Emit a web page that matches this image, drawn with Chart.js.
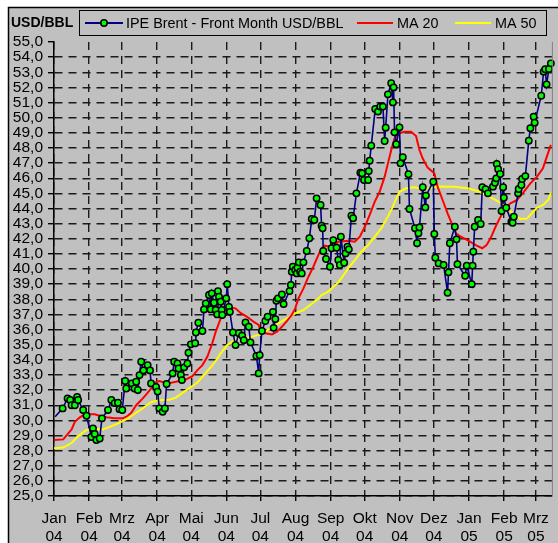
<!DOCTYPE html>
<html>
<head>
<meta charset="utf-8">
<script src="https://cdn.jsdelivr.net/npm/chart.js@4.4.1/dist/chart.umd.min.js"></script>
<style>
    html, body { margin: 0; padding: 0; background: #fff; }
    canvas { display: block; }
</style>
</head>
<body>
<canvas id="brentChart" width="558" height="543"></canvas>
<script>
// x values are days since 1 Jan 2004
const brentDays = [1,7.6,12,14.3,15.5,18.4,20.4,21.3,25.7,28.7,33,34.4,35.9,37.4,40.3,42.3,47.6,50.6,53.5,56.4,
    57.8,60.2,62.8,63.7,68.6,71,72.5,73.9,75.4,76.9,78.9,82.6,84.7,85.6,90,91.4,92.9,95.8,97.8,99.3,
    104.6,106,108.9,109.8,111.9,112.8,114.8,117.7,118.6,120.7,124.5,125.1,127.3,130.9,132.3,133.8,136.7,138.2,139.1,141.1,
    142.6,144,144.6,145.5,147,147.9,148.4,151.9,152.8,154.3,155.1,157.8,160.1,163,165.9,167.4,168.9,171.8,173.3,178.5,
    180.5,181.4,183.4,186.4,188.4,193.1,193.7,195.2,196.1,197.5,201,202.5,207.7,208.9,209.7,210.6,212.7,214.1,214.7,215.9,
    217.1,218.5,220,222.9,225.2,227.3,229.6,231.6,235.1,236,236.9,237.5,239.9,243.4,244.8,246.3,249.2,250.7,252.1,253,
    255.9,257.1,258.8,260,262.3,263.8,266.7,270.2,271.7,273.4,277,277.6,278.4,279.8,283.3,285.7,287.7,290.1,291.6,292.5,
    294.5,297.4,298.9,299.5,300.3,301.8,304.7,305.6,307.6,312.6,313.5,318.4,320.2,321.4,322.3,325.2,327.5,328,334.5,335.4,
    336.3,339.2,343.6,347.1,347.9,349.1,353.5,355,355.8,362.6,364,368.4,369.2,369.8,371,374,376.3,377.7,380.6,382.7,
    387.1,388.9,390,390.5,391.7,393.5,394.7,396.1,396.7,398.8,403.4,404.5,405.5,409.3,409.8,412.2,412.8,415.7,418.7,420.1,
    423,423.9,429.7,431.8,433.2,434.4,436.5,438.2];
const brentValues = [30.24,30.79,31.45,31.34,31.0,31.0,31.55,31.34,30.68,30.3,28.9,29.47,29.1,28.7,28.8,30.13,30.68,31.34,31.14,31.16,
    30.74,30.68,32.6,32.1,32.44,32.1,32.55,32.0,32.99,33.87,33.3,33.65,33.3,32.44,32.2,31.9,30.79,30.56,30.79,32.4,
    33.1,33.87,33.76,33.43,33.0,32.66,33.5,33.76,34.47,35.02,35.09,35.8,36.45,35.9,37.33,37.73,38.28,37.33,38.39,37.77,
    37.29,37.0,38.54,38.17,37.84,37.29,36.96,38.06,39.0,37.5,37.17,35.8,34.97,35.75,35.6,35.3,36.47,36.18,35.15,34.25,
    33.1,34.31,35.9,36.56,36.85,37.17,36.11,36.69,37.9,38.06,38.32,37.68,38.54,38.94,39.82,40.15,39.93,39.71,40.08,40.44,
    39.82,39.71,40.44,41.19,42.03,43.3,43.24,44.67,44.23,42.86,42.69,41.19,40.66,40.15,41.37,41.91,41.4,40.6,40.26,42.13,
    40.41,41.03,41.47,41.3,43.52,43.35,45.0,46.36,46.32,45.88,45.88,46.47,47.16,48.15,50.57,50.4,50.73,50.73,48.46,49.34,
    51.54,52.27,51.01,52.0,49.03,48.24,49.36,46.98,47.38,46.26,43.96,42.69,41.7,42.36,42.75,45.4,44.07,44.85,45.77,42.31,
    40.74,40.37,40.26,38.43,39.78,41.7,42.79,41.96,40.31,39.55,40.22,39.0,40.22,41.14,42.79,43.24,42.97,45.4,45.28,45.0,
    45.44,45.7,45.99,46.94,46.59,46.28,43.83,45.4,44.71,44.05,43.12,43.06,43.45,45.0,45.29,45.55,45.95,46.14,48.48,49.3,
    50.06,49.67,51.45,53.04,53.2,52.2,53.22,53.59];

const ma20Days = [0,8.2,11.1,15.5,18.4,22.8,27.2,35.9,40.3,46.2,53.5,60.7,65.1,68.1,72.5,76.9,81.2,85.6,88.5,92.9,
    100.2,107.5,116.3,122.1,126.5,130.9,135.2,139.6,142.6,147,151.4,155.7,160.1,164.5,170.3,176.2,180.5,182,186.4,192.2,
    196.6,201,205.3,209.7,212.7,215.6,220,224.4,228.7,233.1,236,239,243.4,247.8,250.7,259.4,265.3,269.7,274.1,278.4,
    282.8,287.2,291.6,294.5,297.4,300.3,304.7,309.1,314.9,319.3,322.3,325.2,329.5,335.4,338.3,342.7,347.1,351.4,354.4,358.8,
    364.6,371.9,377.7,381.5,385,389.4,393.8,398.2,402.5,408.4,414.3,420.1,426,431.2,434.1,438.2];
const ma20Values = [28.7,28.74,29.0,29.4,29.9,30.2,30.4,30.4,30.3,30.2,30.13,30.13,30.3,30.5,31.0,31.34,31.7,32.1,32.48,32.6,
    32.44,32.55,32.7,32.92,33.32,33.65,34.2,35.09,35.85,36.74,37.29,37.46,37.4,37.1,36.84,36.51,36.3,35.97,35.75,35.68,
    35.85,36.18,36.56,36.96,37.4,38.06,38.72,39.49,40.15,40.92,41.37,41.54,41.47,41.58,41.8,41.87,41.8,42.13,42.79,43.57,
    44.44,45.1,46.1,46.98,47.86,48.63,48.97,49.07,49.07,48.79,47.86,47.3,46.7,46.32,45.44,44.56,43.68,42.9,42.36,42.13,
    41.91,41.58,41.37,41.58,42.03,42.79,43.46,44.0,44.34,44.56,45.1,45.66,46.1,46.65,47.31,48.2];

const ma50Days = [0,8.2,15.5,21.3,28.7,35.9,43.1,49.1,56.4,63.7,69.6,78.3,85.6,92.9,101.7,107.5,114.8,120.7,126.5,133.8,
    141.1,147,152.8,158.8,163,170,174.7,182,190.8,198.1,205.3,212.7,220,225.9,231.7,236,241.9,246.3,250.7,256.4,
    259.4,265.3,271.1,277,282.8,288.7,294.5,298.9,301.8,304.7,310.6,317.9,323.7,329.5,338.3,352.6,364.6,373.4,382.2,390.9,
    399.7,405.5,411.3,417.2,421.6,426,431.8,436.2,438.2];
const ma50Values = [28.15,28.2,28.5,28.96,29.36,29.45,29.4,29.57,29.8,30.06,30.35,30.8,31.2,31.32,31.36,31.5,31.9,32.2,32.5,33.14,
    33.76,34.42,34.97,35.25,35.5,35.45,35.53,35.68,36.08,36.41,36.74,37.07,37.29,37.62,37.95,38.28,38.5,38.83,39.1,39.7,
    40.04,40.59,41.14,41.58,42.13,42.69,43.46,44.12,44.67,45.1,45.33,45.4,45.3,45.3,45.45,45.44,45.33,45.15,44.85,44.5,
    44.05,43.6,43.3,43.33,43.7,44.05,44.25,44.6,45.05];

const monthStarts = [0,31,60,91,121,152,182,213,244,274,305,335,366,397,425];
const monthLabels = ["Jan","Feb","Mrz","Apr","Mai","Jun","Jul","Aug","Sep","Okt","Nov","Dez","Jan","Feb","Mrz"];
const yearLabels = ["04","04","04","04","04","04","04","04","04","04","04","04","05","05","05"];
const seriesNames = ["IPE Brent - Front Month USD/BBL", "MA 20", "MA 50"];
const unitLabel = "USD/BBL";

const FONT = '"Liberation Sans", Arial, sans-serif';
const BG = '#c0c0c0';
const GRID = '#1a1a1a';

function toPoints(xs, ys) {
    return xs.map((x, i) => ({ x: x, y: ys[i] }));
}

const framePlugin = {
    id: 'frame',
    beforeDraw(chart) {
        const ctx = chart.ctx;
        ctx.save();
        ctx.fillStyle = '#fff';
        ctx.fillRect(0, 0, chart.width, chart.height);
        ctx.fillStyle = BG;
        ctx.fillRect(8, 7, chart.width, chart.height);
        ctx.strokeStyle = '#000';
        ctx.lineWidth = 1.5;
        ctx.beginPath();
        ctx.moveTo(8.5, chart.height);
        ctx.lineTo(8.5, 7.5);
        ctx.lineTo(chart.width, 7.5);
        ctx.stroke();
        ctx.restore();
    },
    afterDraw(chart) {
        const ctx = chart.ctx;
        const area = chart.chartArea;
        ctx.save();
        // right edge of plot area
        ctx.strokeStyle = '#808080';
        ctx.lineWidth = 1;
        ctx.beginPath();
        ctx.moveTo(area.right + 0.5, area.top);
        ctx.lineTo(area.right + 0.5, area.bottom);
        ctx.stroke();

        // unit title
        ctx.fillStyle = '#000';
        ctx.textBaseline = 'middle';
        ctx.font = 'bold 14px ' + FONT;
        ctx.fillText(unitLabel, 11, 23);

        // legend box
        ctx.fillStyle = BG;
        ctx.fillRect(79, 10, 467, 25);
        ctx.strokeStyle = '#000';
        ctx.lineWidth = 1;
        ctx.strokeRect(79.5, 10.5, 467, 25);

        const ly = 23;
        const items = [
            { x0: 85, x1: 123, color: '#000080', marker: true, tx: 126 },
            { x0: 357, x1: 393, color: '#ff0000', marker: false, tx: 397 },
            { x0: 455, x1: 491, color: '#ffff00', marker: false, tx: 495 }
        ];
        ctx.font = '14.4px ' + FONT;
        items.forEach((it, i) => {
            ctx.strokeStyle = it.color;
            ctx.lineWidth = 2;
            ctx.beginPath();
            ctx.moveTo(it.x0, ly);
            ctx.lineTo(it.x1, ly);
            ctx.stroke();
            if (it.marker) {
                ctx.beginPath();
                ctx.arc((it.x0 + it.x1) / 2, ly, 3.2, 0, Math.PI * 2);
                ctx.fillStyle = '#00ff00';
                ctx.fill();
                ctx.lineWidth = 1.5;
                ctx.strokeStyle = '#000';
                ctx.stroke();
            }
            ctx.fillStyle = '#000';
            ctx.fillText(seriesNames[i], it.tx, ly + 1);
        });
        ctx.restore();
    }
};

const chart = new Chart(document.getElementById('brentChart').getContext('2d'), {
    type: 'scatter',
    data: {
        datasets: [
            {
                label: seriesNames[0],
                data: toPoints(brentDays, brentValues),
                showLine: true,
                borderColor: '#000080',
                borderWidth: 1.6,
                // first point sits on the axis and shows no marker in the original
                pointRadius: ctx => ctx.dataIndex === 0 ? 0 : 3.2,
                pointBackgroundColor: '#00ff00',
                pointBorderColor: '#000',
                pointBorderWidth: 1.5,
                clip: 6
            },
            {
                label: seriesNames[1],
                data: toPoints(ma20Days, ma20Values),
                showLine: true,
                borderColor: '#ff0000',
                borderWidth: 2,
                pointRadius: 0
            },
            {
                label: seriesNames[2],
                data: toPoints(ma50Days, ma50Values),
                showLine: true,
                borderColor: '#ffff00',
                borderWidth: 2,
                pointRadius: 0
            }
        ]
    },
    options: {
        responsive: false,
        animation: false,
        events: [],
        layout: { padding: { top: 42, right: 3, bottom: 0, left: 0 } },
        plugins: { legend: { display: false }, tooltip: { enabled: false } },
        scales: {
            x: {
                type: 'linear',
                min: 0,
                max: 439.1,
                afterBuildTicks: s => { s.ticks = monthStarts.map(v => ({ value: v })); },
                afterFit: s => { s.height = 47; },
                ticks: {
                    autoSkip: false,
                    maxRotation: 0,
                    padding: 9,
                    color: '#000',
                    font: { family: FONT, size: 15.5, lineHeight: 1.15 },
                    callback: (v, i) => [monthLabels[i], yearLabels[i]]
                },
                grid: {
                    color: GRID,
                    lineWidth: 1.4,
                    tickLength: 5,
                    tickColor: '#000',
                    tickBorderDash: []
                },
                border: { display: true, color: '#000', width: 1.5, dash: [8, 6] }
            },
            y: {
                min: 25,
                max: 55,
                afterFit: s => { s.width = 54; },
                ticks: {
                    stepSize: 1,
                    autoSkip: false,
                    padding: 5,
                    color: '#000',
                    font: { family: FONT, size: 15.5 },
                    callback: v => v.toFixed(1).replace('.', ',')
                },
                grid: {
                    color: ctx => (ctx.tick && ctx.tick.value === 55) ? 'rgba(0,0,0,0)' : GRID,
                    lineWidth: 1.4,
                    tickLength: 6,
                    tickColor: '#000',
                    tickBorderDash: []
                },
                border: { display: true, color: '#000', width: 1.5, dash: [8, 6] }
            }
        }
    },
    plugins: [framePlugin]
});
</script>
</body>
</html>
